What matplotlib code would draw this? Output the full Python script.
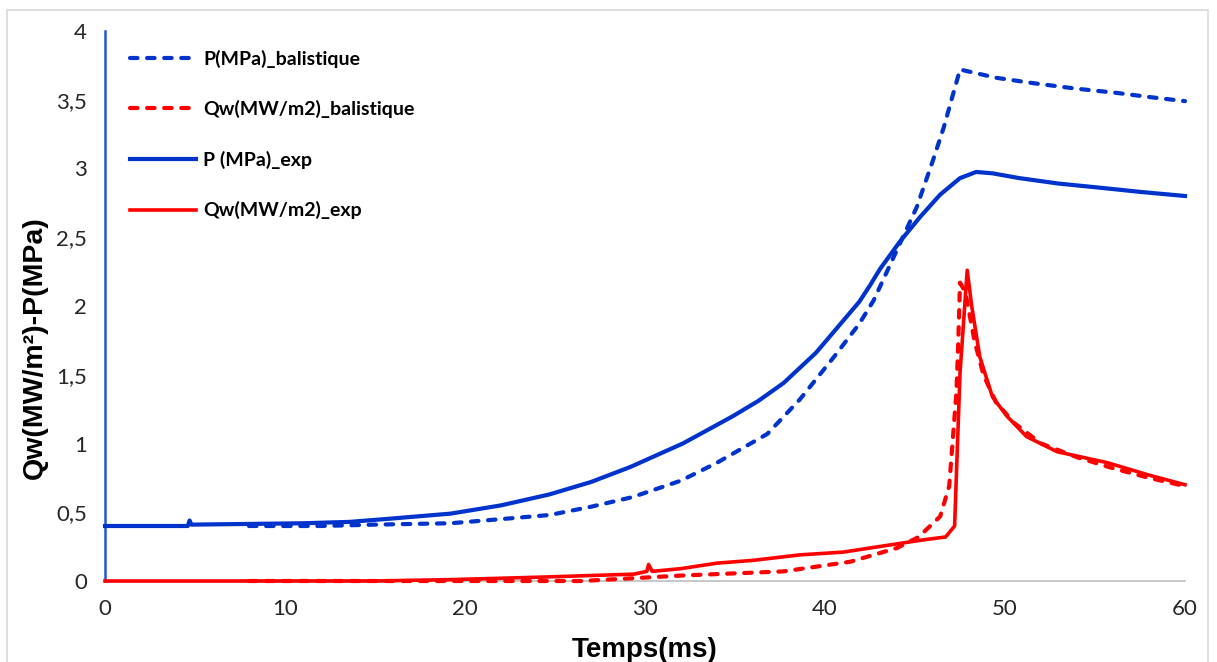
import numpy as np
import matplotlib.pyplot as plt
from matplotlib.patches import Rectangle

# Datos
# P (MPa)_exp
t_p_exp = [0, 4.6, 4.7, 4.8, 8, 11, 13.6, 16, 19.2, 22, 24.7, 27, 29.2, 32.1, 34.9,
           36.3, 37.7, 39.5, 41.9, 42.5, 43.06, 44.17, 45.3, 46.4, 47.5, 48.4, 49.3,
           50.8, 53, 55.3, 57.5, 60]
p_exp = [0.40, 0.40, 0.44, 0.41, 0.415, 0.42, 0.43, 0.455, 0.49, 0.55, 0.63, 0.72, 0.83,
         1.00, 1.20, 1.31, 1.44, 1.66, 2.03, 2.15, 2.27, 2.47, 2.65, 2.81, 2.93, 2.975,
         2.965, 2.93, 2.89, 2.86, 2.83, 2.80]

# P(MPa)_balistique
t_p_bal = [8, 12, 15, 19.2, 22, 24.7, 27, 29.3, 32, 34.0, 36.8, 38.6, 40.5, 41.9, 42.7,
           43.9, 45.1, 46, 46.6, 47.5, 49.5, 51.6, 54, 56.2, 58, 60]
p_bal = [0.40, 0.40, 0.41, 0.42, 0.45, 0.48, 0.54, 0.61, 0.73, 0.86, 1.07, 1.32, 1.63,
         1.87, 2.04, 2.38, 2.72, 3.06, 3.30, 3.72, 3.66, 3.62, 3.58, 3.55, 3.52, 3.49]

# Qw(MW/m2)_exp
t_q_exp = [0, 15, 19.2, 22, 24.7, 27, 29.4, 30.1, 30.2, 30.4, 32, 34, 36, 38.6, 41, 44,
           45.5, 46.7, 47.2, 47.5, 47.9, 48.15, 48.6, 49.3, 50.1, 51.2, 52.9, 55.7, 58, 60]
q_exp = [0, 0, 0.01, 0.02, 0.03, 0.04, 0.05, 0.07, 0.12, 0.07, 0.09, 0.13, 0.15, 0.19,
         0.21, 0.27, 0.30, 0.32, 0.40, 1.51, 2.26, 2.00, 1.63, 1.34, 1.20, 1.05, 0.94,
         0.86, 0.77, 0.70]

# Qw(MW/m2)_balistique
t_q_bal = [8, 20, 26.5, 32.1, 37.7, 41.4, 44, 45.2, 46.4, 46.9, 47.3, 47.4, 47.5, 47.8,
           48.3, 48.8, 49.5, 50.5, 52, 54, 56, 58, 60]
q_bal = [0, 0, 0, 0.04, 0.07, 0.14, 0.24, 0.32, 0.47, 0.69, 1.37, 1.72, 2.17, 2.10,
         1.75, 1.50, 1.30, 1.15, 1.00, 0.90, 0.82, 0.75, 0.69]

x_ticks = [0, 10, 20, 30, 40, 50, 60]
y_ticks = [0, 0.5, 1, 1.5, 2, 2.5, 3, 3.5, 4]
y_labels = ['0', '0,5', '1', '1,5', '2', '2,5', '3', '3,5', '4']

azul = '#0033cc'
rojo = '#ff0000'

fig = plt.figure(figsize=(12.17, 6.62), dpi=100)
fig.patches.append(Rectangle((7/1217, -0.01), 1201/1217, 1 - 10/662 + 0.01,
                             transform=fig.transFigure, fill=False,
                             edgecolor='#d9d9d9', lw=1.2))
ax = fig.add_axes([105/1217, 81/662, 1080/1217, 550/662])

dash = (0, (1.8, 2.3))
ax.plot(t_p_bal, p_bal, color=azul, lw=3, linestyle=dash, dash_capstyle='round',
        label='P(MPa)_balistique', clip_on=False, zorder=3)
ax.plot(t_q_bal, q_bal, color=rojo, lw=3, linestyle=dash, dash_capstyle='round',
        label='Qw(MW/m2)_balistique', clip_on=False, zorder=3)
ax.plot(t_p_exp, p_exp, color=azul, lw=3, label='P (MPa)_exp', clip_on=False, zorder=3)
ax.plot(t_q_exp, q_exp, color=rojo, lw=2.6, label='Qw(MW/m2)_exp', clip_on=False,
        zorder=3)

ax.set_xlim(0, 60)
ax.set_ylim(0, 4)
ax.set_xticks(x_ticks)
ax.set_yticks(y_ticks)
ax.set_yticklabels(y_labels)
ax.tick_params(length=0, labelsize=16, colors='#262626', labelfontfamily='Lato')
ax.tick_params(axis='y', pad=13)
ax.tick_params(axis='x', pad=13)

for s in ['top', 'right']:
    ax.spines[s].set_visible(False)
ax.spines['left'].set_color('#2255dd')
ax.spines['left'].set_linewidth(1.8)
ax.spines['bottom'].set_color('#bfbfbf')
ax.spines['bottom'].set_linewidth(1.2)

ax.set_xlabel('Temps(ms)', fontsize=20, fontweight='bold', family='Liberation Sans',
              va='top')
ax.xaxis.set_label_coords(0.5, -0.102)
ax.set_ylabel('Qw(MW/m²)-P(MPa)', fontsize=20.5, fontweight='bold',
              family='Liberation Sans')
ax.yaxis.set_label_coords(-0.053, 0.425)

ax.legend(loc='upper left', bbox_to_anchor=(0.007, 0.998), frameon=False,
          handlelength=3.4, handletextpad=0.35, labelspacing=1.67,
          prop={'family': 'Lato', 'weight': 'bold', 'size': 14})

fig.savefig('out.png', dpi=100)
